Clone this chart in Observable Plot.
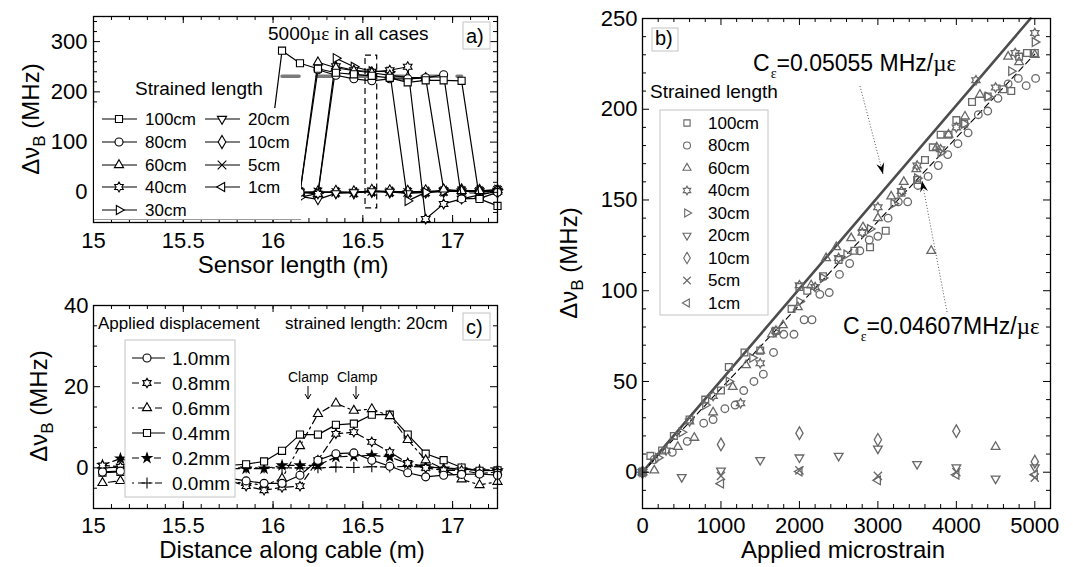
<!DOCTYPE html>
<html><head><meta charset="utf-8">
<script src="https://cdn.jsdelivr.net/npm/d3@7"></script>
<script src="https://cdn.jsdelivr.net/npm/@observablehq/plot@0.6"></script>
<style>
html,body{margin:0;padding:0;background:#fff;}
#root{position:relative;width:1073px;height:567px;overflow:hidden;background:#fff;}
</style></head><body><div id="root"></div>
<script>
// ---------------- DATA ----------------
// Panel a) : Brillouin shift profile along sensor, 5000 µε, several strained lengths
const aX = [15.95, 16.05, 16.15, 16.25, 16.35, 16.45, 16.55, 16.65, 16.75, 16.85, 16.95, 17.05, 17.15, 17.25];
const aLabels = ["100cm", "80cm", "60cm", "40cm", "30cm", "20cm", "10cm", "5cm", "1cm"];
const a100 = [0, 282, 257, 246, 238, 235, 232, 228, 219, 223, 223, 222, -13, -27];
const a80  = [0, 0, 0, 244, 233, 226, 222, 226, 226, 228, 234, -13, -12, 0];
const a60  = [0, 0, 0, 259, 248, 242, 238, 233, 229, 228, 6, 3, 3, 5];
const a40  = [0, 0, 0, -3, 251, 243, 240, 243, 250, -53, -23, -13, -5, 2];
const a30  = [0, 0, -10, -2, 267, 250, 241, 240, -17, 0, 2, 2, 3, 5];
const a20  = [0, 0, -8, -14, -2, 0, 2, 1, -2, 0, 3, 2, 2, 3];
const a10  = [0, 0, 0, 0, 1, 0, 3, 2, 1, 2, 3, 4, 3, 2];
const a5   = [0, 0, 0, 1, 0, -1, 2, 1, 0, 1, 2, 3, 2, 4];
const a1   = [0, 0, 0, 0, 0, 0, 2, 1, 0, 1, 3, 2, 2, 4];
const aRefX = [16.05, 17.05, 17.1, 17.25];
const aRefY = [231, 231, 0, 0];
const aRefSeg = [0, 0, 1, 1];
const aBoxX = [16.515, 16.58];
const aBoxY = [-32, 272];
const aXTicks = [15, 15.5, 16, 16.5, 17];
const aYTicks = [0, 100, 200, 300];

// Panel c) : strained length 20cm, applied displacement
const cX = [15.05, 15.15, 15.25, 15.35, 15.45, 15.55, 15.65, 15.75, 15.85, 15.95, 16.05, 16.15,
            16.25, 16.35, 16.45, 16.55, 16.65, 16.75, 16.85, 16.95, 17.05, 17.15, 17.25];
const cLabels = ["1.0mm", "0.8mm", "0.6mm", "0.4mm", "0.2mm", "0.0mm"];
const c10 = [-1.0, -0.8, -1, -1, -1, -1, -1.5, -2.5, -3.2, -3.8, -3.8, -1.8, 1.9, 3.5, 3.7, 1.9, 0.4, -1.2, -2.2, -1.8, -1.6, -1.5, -1.8];
const c08 = [0.6, 0.3, 0, 0, 0, -1, -2, -3, -4.5, -5.5, -4.8, -4.5, 1.9, 8.4, 8.8, 6.4, 3.9, 1.2, 0, -0.6, -0.6, -1.4, -1.0];
const c06 = [-3.7, -3.2, -3, -3, -3, -3, -3, -3.5, -3.7, -4.3, -2.6, 5.4, 13.3, 15.9, 14.1, 14.5, 12.8, 6.9, 1.9, -0.3, -2.8, -4.2, -3.4];
const c04 = [-1.2, -1.0, -0.5, 0, 0, 0, 0.3, 0.6, 0.9, 1.6, 4.2, 8.2, 8.2, 10.6, 10.9, 13.1, 13.1, 8.2, 3.5, 1.9, 0.1, -0.7, -0.6];
const c02 = [0.7, 2.3, 1, 0.5, 0, 0, 0, -0.2, -0.2, -0.2, 0.6, 0.6, 0.6, 2.7, 2.9, 3.1, 2.7, 1.1, 0.4, -0.2, -0.4, -0.6, -0.6];
const c00 = [0, 0.2, 0, 0, 0, 0, 0, 0, 0, 0, 0, 0, 0, 0.2, 0.1, 0.3, 0.2, 0.4, 0.2, 0, -0.3, -0.5, -0.5];
const cXTicks = [15, 15.5, 16, 16.5, 17];
const cYTicks = [0, 20, 40];

// Panel b) : Brillouin shift vs applied microstrain
const bS100 = [0, 100, 250, 400, 600, 800, 1000, 1100, 1300, 1500, 1700, 1900, 2000, 2100, 2300, 2500, 2700, 2900, 3100, 3300, 3500, 3600, 3700, 3800, 3900, 4000, 4100, 4200, 4400, 4600, 4700, 4800, 4900, 5000];
const bV100 = [0, 9, 12, 20, 29, 40, 45, 58, 66, 67, 78, 90, 102, 100, 108, 117, 122, 124, 133, 154, 161, 172, 179, 186, 186, 194, 192, 204, 207, 211, 210, 229, 231, 231];
const bS80 = [0, 150, 380, 570, 780, 900, 1050, 1180, 1290, 1420, 1540, 1670, 1800, 1930, 2060, 2160, 2260, 2380, 2510, 2640, 2770, 2890, 3000, 3130, 3260, 3380, 3510, 3640, 3770, 3890, 4020, 4150, 4280, 4400, 4530, 4660, 4790, 4890, 5010];
const bV80 = [0, 7, 11, 17, 27, 29, 35, 37, 45, 50, 54, 66, 76, 76, 84, 84, 98, 99, 109, 115, 122, 128, 130, 140, 149, 149, 158, 163, 169, 175, 181, 187, 197, 199, 206, 214, 217, 213, 217];
const bS60 = [0, 150, 450, 660, 900, 1150, 1320, 1500, 1650, 1790, 1980, 2150, 2340, 2470, 2660, 2810, 3000, 3170, 3330, 3490, 3680, 3750, 3900, 4110, 4300, 4500, 4660, 4800, 5000];
const bV60 = [0, 1, 14, 19, 33, 47, 59, 67, 76, 81, 91, 103, 118, 124, 129, 135, 140, 152, 160, 167, 122, 179, 186, 196, 208, 14, 229, 226, 230];
const bS40 = [0, 300, 600, 900, 1250, 1500, 1700, 2000, 2200, 2500, 2800, 3000, 3300, 3500, 3800, 4000, 4250, 4500, 4750, 5000];
const bV40 = [0, 12, 28, 42, 38, 60, 78, 103, 102, 118, 132, 146, 155, 169, 178, 190, 216, 212, 231, 242];
const bS30 = [0, 200, 500, 800, 1100, 1400, 1700, 2000, 2300, 2600, 2900, 3200, 3500, 3800, 4100, 4400, 4700, 5000];
const bV30 = [0, 8, 22, 37, 50, 63, 77, 94, 107, 120, 134, 148, 162, 176, 192, 207, 221, 237];
const bS20 = [0, 500, 1000, 1500, 2000, 2500, 3000, 3500, 4000, 4500, 5000];
const bV20 = [0, -2.7, 0.9, 6.7, 8.1, 9, 13, 4.5, 2.7, -3.5, 2.7];
const bS10 = [0, 1000, 2000, 3000, 4000, 5000];
const bV10 = [0, 15.3, 21.5, 17.9, 22.6, 5.8];
const bS5 = [0, 1000, 2000, 3000, 4000, 5000];
const bV5 = [0, -2, 1, -2, 0, -3];
const bS1 = [0, 1000, 2000, 3000, 4000, 5000];
const bV1 = [0, -6.3, 0.4, -4.5, -1.4, -1.4];
const bFitSolidX = [0, 4946];   // C = 0.05055 MHz/µε
const bFitSolidY = [0, 250];
const bFitDashX = [0, 5000];    // C = 0.04607 MHz/µε
const bFitDashY = [0, 230.4];
const bXTicks = [0, 1000, 2000, 3000, 4000, 5000];
const bYTicks = [0, 50, 100, 150, 200, 250];

// ---------------- SYMBOLS ----------------
const FONT = '"Liberation Sans", Arial, Helvetica, sans-serif';
const SQ3 = Math.sqrt(3);
function triangle(rot, scale = 0.85) {
  return {draw(ctx, size) {
    const y = -Math.sqrt(size / (SQ3 * 3)) * scale;
    const pts = [[0, 2 * y], [-SQ3 * y, -y], [SQ3 * y, -y]];
    const c = Math.cos(rot), s = Math.sin(rot);
    pts.forEach(([px, py], i) => {
      const X = px * c - py * s, Y = px * s + py * c;
      if (i) ctx.lineTo(X, Y); else ctx.moveTo(X, Y);
    });
    ctx.closePath();
  }};
}
const triUp = triangle(0), triRight = triangle(Math.PI / 2), triDown = triangle(Math.PI), triLeft = triangle(-Math.PI / 2);
const hexagram = {draw(ctx, size) {
  const R = Math.sqrt(size) * 0.7, r0 = R / SQ3;
  for (let k = 0; k < 12; k++) {
    const a = -Math.PI / 2 + k * Math.PI / 6, rr = k % 2 ? r0 : R;
    const X = rr * Math.cos(a), Y = rr * Math.sin(a);
    if (k) ctx.lineTo(X, Y); else ctx.moveTo(X, Y);
  }
  ctx.closePath();
}};
const lengthSymbols = [d3.symbolSquare, d3.symbolCircle, triUp, hexagram, triRight, triDown, d3.symbolDiamond, d3.symbolTimes, triLeft];

const rowsOf = (xs, ys, extra = {}) => xs.map((x, i) => ({x, y: ys[i], ...extra}));

function frameMarks({xMaj, xMin, yMaj, yMin, fw, fh, xPad, yPad}) {
  const M = 7, m = 4, st = {stroke: "black", strokeWidth: 1};
  return [
    Plot.tickX(xMaj, {x: d => d, insetTop: fh - M, ...st}),
    Plot.tickX(xMaj, {x: d => d, insetBottom: fh - M, ...st}),
    Plot.tickX(xMin, {x: d => d, insetTop: fh - m, ...st}),
    Plot.tickX(xMin, {x: d => d, insetBottom: fh - m, ...st}),
    Plot.tickY(yMaj, {y: d => d, insetRight: fw - M, ...st}),
    Plot.tickY(yMaj, {y: d => d, insetLeft: fw - M, ...st}),
    Plot.tickY(yMin, {y: d => d, insetRight: fw - m, ...st}),
    Plot.tickY(yMin, {y: d => d, insetLeft: fw - m, ...st}),
    Plot.axisX(xMaj, {tickSize: 0, tickPadding: xPad, label: null, tickFormat: d => String(d)}),
    Plot.axisY(yMaj, {tickSize: 0, tickPadding: yPad, label: null, tickFormat: d => String(d)}),
    Plot.frame({stroke: "black", strokeWidth: 1.3})
  ];
}
const baseStyle = {fontFamily: FONT, fontSize: "22px", color: "black", background: "transparent", overflow: "visible"};

const root = document.getElementById("root");
function place(svg, left, top) {
  svg.style.position = "absolute"; svg.style.left = left + "px"; svg.style.top = top + "px";
  root.appendChild(svg);
}

// ---------------- PANEL A ----------------
const aVals = [a100, a80, a60, a40, a30, a20, a10, a5, a1];
const aMarks = [
  Plot.line(rowsOf(aRefX, aRefY).map((d, i) => ({...d, z: aRefSeg[i]})), {x: "x", y: "y", z: "z", stroke: "#7a7a7a", strokeWidth: 3.5, strokeDasharray: "17,18"})
];
[8, 7, 6, 5, 4, 3, 2, 1, 0].forEach(i => {
  const rows = rowsOf(aX, aVals[i]);
  aMarks.push(Plot.line(rows, {x: "x", y: "y", stroke: "black", strokeWidth: 1.2}));
  aMarks.push(Plot.dot(rows, {x: "x", y: "y", symbol: lengthSymbols[i], r: 4, stroke: "black", fill: "white", strokeWidth: 1.1}));
});
aMarks.push(Plot.rect([{x1: aBoxX[0], x2: aBoxX[1], y1: aBoxY[0], y2: aBoxY[1]}], {x1: "x1", x2: "x2", y1: "y1", y2: "y2", fill: "none", stroke: "black", strokeWidth: 1.2, strokeDasharray: "6,4"}));
const fwA = 540 - 93 - 43, fhA = 290 - 16 - 68;
aMarks.push(...frameMarks({xMaj: aXTicks, xMin: d3.range(15.1, 17.25, 0.1), yMaj: aYTicks, yMin: d3.range(-40, 350, 20).filter(v => v % 100 !== 0), fw: fwA, fh: fhA, xPad: 10, yPad: 6}));
const plotA = Plot.plot({
  width: 540, height: 290, marginTop: 16, marginRight: 43, marginBottom: 68, marginLeft: 93,
  x: {domain: [15, 17.25]}, y: {domain: [-60, 350]}, style: baseStyle, marks: aMarks
});
place(plotA, 0, 0);

// ---------------- PANEL C ----------------
const cVals = [c10, c08, c06, c04, c02, c00];
const cStyles = [
  {symbol: d3.symbolCircle, dash: null, fill: "white", r: 4},
  {symbol: hexagram, dash: "7,4", fill: "white", r: 3.8},
  {symbol: triUp, dash: "2,4,7,4", fill: "white", r: 4},
  {symbol: d3.symbolSquare, dash: null, fill: "white", r: 4},
  {symbol: d3.symbolStar, dash: "7,4", fill: "black", r: 3},
  {symbol: d3.symbolPlus, dash: "2,4,7,4", fill: "none", r: 3.6}
];
const cMarks = [];
[5, 4, 3, 2, 1, 0].forEach(i => {
  const rows = rowsOf(cX, cVals[i]);
  const s = cStyles[i];
  cMarks.push(Plot.line(rows, {x: "x", y: "y", stroke: "black", strokeWidth: 1.2, strokeDasharray: s.dash}));
  cMarks.push(Plot.dot(rows, {x: "x", y: "y", symbol: s.symbol, r: s.r, stroke: "black", fill: s.fill, strokeWidth: 1.1}));
});
const fwC = 540 - 93 - 43, fhC = 277 - 15 - 59;
cMarks.push(...frameMarks({xMaj: cXTicks, xMin: d3.range(15.1, 17.25, 0.1), yMaj: cYTicks, yMin: d3.range(-5, 40, 5).filter(v => v % 20 !== 0), fw: fwC, fh: fhC, xPad: 9, yPad: 5}));
const plotC = Plot.plot({
  width: 540, height: 277, marginTop: 15, marginRight: 43, marginBottom: 59, marginLeft: 93,
  x: {domain: [15, 17.25]}, y: {domain: [-10, 40]}, style: baseStyle, marks: cMarks
});
place(plotC, 0, 290);

// ---------------- PANEL B ----------------
const bS = [bS100, bS80, bS60, bS40, bS30, bS20, bS10, bS5, bS1];
const bV = [bV100, bV80, bV60, bV40, bV30, bV20, bV10, bV5, bV1];
const GRAY = "#686868";
const bMarks = [
  Plot.line(rowsOf(bFitSolidX, bFitSolidY), {x: "x", y: "y", stroke: "#4d4d4d", strokeWidth: 2.6}),
  Plot.line(rowsOf(bFitDashX, bFitDashY), {x: "x", y: "y", stroke: "black", strokeWidth: 1.1, strokeDasharray: "6,4"})
];
[8, 7, 6, 5, 4, 3, 2, 1, 0].forEach(i => {
  bMarks.push(Plot.dot(rowsOf(bS[i], bV[i]), {x: "x", y: "y", symbol: lengthSymbols[i], r: 3.8, stroke: GRAY, fill: "none", strokeWidth: 1.3}));
});
const fwB = 533 - 102 - 23, fhB = 567 - 18 - 59;
bMarks.push(...frameMarks({xMaj: bXTicks, xMin: d3.range(200, 5200, 200).filter(v => v % 1000 !== 0), yMaj: bYTicks, yMin: d3.range(-10, 250, 10).filter(v => v % 50 !== 0), fw: fwB, fh: fhB, xPad: 9, yPad: 5}));
const plotB = Plot.plot({
  width: 533, height: 567, marginTop: 18, marginRight: 23, marginBottom: 59, marginLeft: 102,
  x: {domain: [0, 5200]}, y: {domain: [-20, 250]}, style: baseStyle, marks: bMarks
});
place(plotB, 540, 0);

// ---------------- OVERLAY: legends, titles, annotations ----------------
const ov = d3.create("svg").attr("width", 1073).attr("height", 567)
  .style("position", "absolute").style("left", "0px").style("top", "0px")
  .style("font-family", FONT).style("overflow", "visible");
function text(x, y, str, size, anchor = "start") {
  return ov.append("text").attr("x", x).attr("y", y).attr("font-size", size).attr("text-anchor", anchor).attr("fill", "black").text(str);
}
function symPath(sym, r) { return d3.symbol().type(sym).size(Math.PI * r * r)(); }
function legendRow(y, lx0, lx1, mx, tx, sym, label, size, {stroke = "black", fill = "white", dash = null, r = 4, line = true} = {}) {
  if (line) ov.append("line").attr("x1", lx0).attr("x2", lx1).attr("y1", y).attr("y2", y)
    .attr("stroke", "black").attr("stroke-width", 1.2).attr("stroke-dasharray", dash);
  ov.append("path").attr("d", symPath(sym, r)).attr("transform", `translate(${mx},${y})`)
    .attr("stroke", stroke).attr("fill", fill).attr("stroke-width", 1.1);
  text(tx, y, label, size).attr("dominant-baseline", "central");
}
function yTitle(x, y) {
  const t = ov.append("text").attr("transform", `translate(${x},${y}) rotate(-90)`)
    .attr("text-anchor", "middle").attr("font-size", 24);
  t.append("tspan").text("Δν");
  t.append("tspan").attr("font-size", 17).attr("dy", 6).text("B");
  t.append("tspan").attr("dy", -6).text(" (MHz)");
}
function labelBox(x, y, w, h, str) {
  ov.append("rect").attr("x", x).attr("y", y).attr("width", w).attr("height", h).attr("fill", "white").attr("stroke", "#c4c4c4");
  text(x + 3, y + h - 6, str, 20);
}

// Panel a texts
labelBox(463, 22, 27, 27, "a)");
{
  const t = text(268, 40, "5000", 19);
  t.append("tspan").attr("font-family", '"Liberation Serif", serif').text("µε");
  t.append("tspan").text(" in all cases");
}
text(135, 95, "Strained length", 19);
ov.append("rect").attr("x", 94).attr("y", 108).attr("width", 207).attr("height", 112).attr("fill", "white");
ov.append("line").attr("x1", 94).attr("x2", 301).attr("y1", 219.5).attr("y2", 219.5).attr("stroke", "#9a9a9a");
const aRowY = [119, 142, 165, 187, 210];
aLabels.forEach((lab, i) => {
  if (i < 5) legendRow(aRowY[i], 102, 137, 119, 145, lengthSymbols[i], lab, 17);
  else legendRow(aRowY[i - 5], 205, 240, 222, 248, lengthSymbols[i], lab, 17);
});
text(293, 273, "Sensor length (m)", 24, "middle");
yTitle(39, 119);

// Panel c texts
labelBox(463, 313, 27, 27, "c)");
text(98, 329, "Applied displacement", 17);
text(285, 329, "strained length: 20cm", 17);
ov.append("rect").attr("x", 125).attr("y", 340).attr("width", 110).attr("height", 157).attr("fill", "white").attr("stroke", "#c4c4c4");
cLabels.forEach((lab, i) => {
  const s = cStyles[i];
  legendRow(358 + 25 * i, 132, 165, 147, 172, s.symbol, lab, 19, {fill: s.fill, dash: s.dash, r: s.r});
});
text(288, 382, "Clamp", 14);
text(337, 382, "Clamp", 14);
[308, 356].forEach(x => {
  ov.append("line").attr("x1", x).attr("x2", x).attr("y1", 386).attr("y2", 399).attr("stroke", "black").attr("stroke-width", 1);
  ov.append("path").attr("d", `M${x - 3},${394} L${x},${399} L${x + 3},${394}`).attr("fill", "none").attr("stroke", "black").attr("stroke-width", 1);
});
text(292, 558, "Distance along cable (m)", 24, "middle");
yTitle(47, 406);

// Panel b texts
labelBox(652, 28, 26, 23, "b)");
text(650, 98, "Strained length", 19);
ov.append("rect").attr("x", 660).attr("y", 110).attr("width", 108).attr("height", 205).attr("fill", "white").attr("stroke", "#c4c4c4");
aLabels.forEach((lab, i) => {
  legendRow(123 + 22.5 * i, 0, 0, 687, 708, lengthSymbols[i], lab, 17, {stroke: GRAY, fill: "none", r: 3.5, line: false});
});
function cAnnot(x, y, value) {
  const t = text(x, y, "C", 23);
  t.append("tspan").attr("font-family", '"Liberation Serif", serif').attr("font-size", 14).attr("dy", 7).attr("dx", 1).text("ε");
  t.append("tspan").attr("dy", -7).text(value);
  t.append("tspan").attr("font-family", '"Liberation Serif", serif').text("µε");
}
cAnnot(753, 71, "=0.05055 MHz/");
cAnnot(843, 334, "=0.04607MHz/");
function dottedArrow(x1, y1, x2, y2) {
  ov.append("line").attr("x1", x1).attr("y1", y1).attr("x2", x2).attr("y2", y2)
    .attr("stroke", "#555").attr("stroke-width", 1).attr("stroke-dasharray", "1,2");
  const a = Math.atan2(y2 - y1, x2 - x1), L = 11, W = 4;
  const bx = x2 - L * Math.cos(a), by = y2 - L * Math.sin(a);
  const px = -Math.sin(a) * W, py = Math.cos(a) * W;
  ov.append("path").attr("d", `M${x2},${y2} L${bx + px},${by + py} L${bx + 0.35 * L * Math.cos(a)},${by + 0.35 * L * Math.sin(a)} L${bx - px},${by - py} Z`).attr("fill", "black");
}
dottedArrow(860, 86, 883, 174);
dottedArrow(947, 312, 922, 181);
text(843, 558, "Applied microstrain", 24, "middle");
yTitle(577, 263);

root.appendChild(ov.node());
</script></body></html>
